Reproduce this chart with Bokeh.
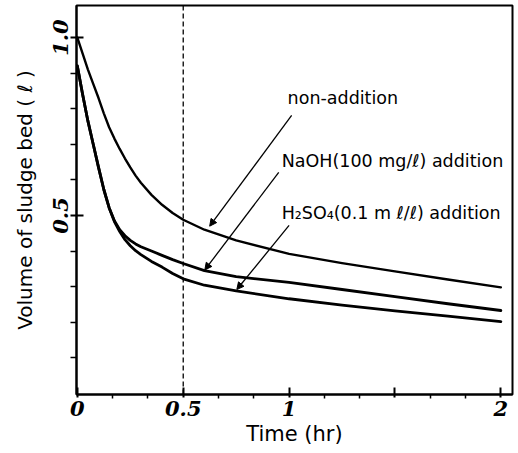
from bokeh.plotting import figure
from bokeh.models import Range1d, FixedTicker, Arrow, NormalHead, Label, Span
from bokeh.embed import file_html
from bokeh.resources import INLINE

# ---- data ----
time_hr = [0, 0.025, 0.05, 0.075, 0.1, 0.125, 0.15, 0.175, 0.2, 0.225, 0.25, 0.275, 0.3, 0.35, 0.4, 0.45,
           0.5, 0.6, 0.75, 1.0, 1.25, 1.5, 1.75, 2.0]
non_addition = [1.0, 0.955, 0.91, 0.87, 0.83, 0.787, 0.748, 0.716, 0.687, 0.66, 0.635, 0.612, 0.592, 0.558, 0.53, 0.507,
                0.488, 0.46, 0.43, 0.392, 0.366, 0.343, 0.32, 0.298]
naoh_addition = [0.92, 0.84, 0.765, 0.70, 0.635, 0.573, 0.522, 0.485, 0.46, 0.443, 0.43, 0.42, 0.412, 0.40, 0.388, 0.376,
                 0.365, 0.345, 0.328, 0.312, 0.292, 0.272, 0.252, 0.233]
h2so4_addition = [0.92, 0.84, 0.765, 0.70, 0.635, 0.573, 0.522, 0.483, 0.455, 0.432, 0.415, 0.401, 0.39, 0.371, 0.355, 0.337,
                  0.322, 0.304, 0.288, 0.266, 0.248, 0.232, 0.217, 0.202]

series_labels = ["non-addition", "NaOH(100 mg/\u2113) addition", "H\u2082SO\u2084(0.1 m \u2113/\u2113) addition"]
label_x = [0.993, 0.965, 0.965]
label_y = [0.831, 0.654, 0.506]
arrow_start_x = [1.012, 0.951, 1.0]
arrow_start_y = [0.781, 0.621, 0.472]
arrow_end_x = [0.625, 0.602, 0.753]
arrow_end_y = [0.47, 0.347, 0.292]

x_major_ticks = [0, 0.5, 1, 1.5, 2]
x_tick_labels = {0: "0", 0.5: "0.5", 1: "1", 1.5: "", 2: "2"}
x_minor_ticks = [k / 6 for k in range(13) if k % 3 != 0]
y_major_ticks = [0.5, 1.0]
y_tick_labels = {0.5: "0.5", 1.0: "1.0"}
y_minor_ticks = [0.1, 0.2, 0.3, 0.4, 0.6, 0.7, 0.8, 0.9]
marker_time = 0.5

p = figure(width=518, height=453, output_backend="svg", toolbar_location=None,
           x_range=Range1d(-0.004, 2.055), y_range=Range1d(-0.003, 1.09),
           min_border_left=76, min_border_right=6, min_border_top=5, min_border_bottom=59)
p.grid.visible = False
p.outline_line_color = "black"
p.outline_line_width = 2
p.background_fill_color = "white"
p.border_fill_color = "white"

for ys, w in [(non_addition, 2.4), (naoh_addition, 2.8), (h2so4_addition, 2.8)]:
    p.line(time_hr, ys, line_color="black", line_width=w, line_join="round", line_cap="round")

p.add_layout(Span(location=marker_time, dimension="height", line_color="black",
                  line_width=1.3, line_dash="5 3"))

for i in range(3):
    p.add_layout(Arrow(x_start=arrow_start_x[i], y_start=arrow_start_y[i],
                       x_end=arrow_end_x[i], y_end=arrow_end_y[i],
                       line_color="black", line_width=1.3,
                       end=NormalHead(size=7, fill_color="black", line_color="black", line_width=1)))
    p.add_layout(Label(x=label_x[i], y=label_y[i], text=series_labels[i],
                       text_font="DejaVu Sans", text_font_size="17.5px",
                       text_baseline="middle", text_align="left", text_color="black"))

xa = p.xaxis[0]
xa.ticker = FixedTicker(ticks=x_major_ticks, minor_ticks=x_minor_ticks)
xa.major_label_overrides = x_tick_labels
xa.axis_line_width = 2
xa.major_tick_line_width = 2
xa.minor_tick_line_width = 1.5
xa.major_tick_in = 7
xa.major_tick_out = 3
xa.minor_tick_in = 0
xa.minor_tick_out = 4
xa.major_label_standoff = 2
xa.major_label_text_color = "black"
xa.major_label_text_font = "DejaVu Serif"
xa.major_label_text_font_style = "bold italic"
xa.major_label_text_font_size = "21px"
xa.axis_label = "Time (hr)"
xa.axis_label_text_color = "black"
xa.axis_label_text_font = "DejaVu Sans"
xa.axis_label_text_font_style = "normal"
xa.axis_label_text_font_size = "21px"
xa.axis_label_standoff = 3

ya = p.yaxis[0]
ya.ticker = FixedTicker(ticks=y_major_ticks, minor_ticks=y_minor_ticks)
ya.major_label_overrides = y_tick_labels
ya.axis_line_width = 2
ya.major_tick_line_width = 2
ya.minor_tick_line_width = 1.5
ya.major_tick_in = 7
ya.major_tick_out = 6
ya.minor_tick_in = 0
ya.minor_tick_out = 6
ya.major_label_standoff = 2
ya.major_label_orientation = "vertical"
ya.major_label_text_color = "black"
ya.major_label_text_font = "DejaVu Serif"
ya.major_label_text_font_style = "bold italic"
ya.major_label_text_font_size = "21px"
ya.axis_label = "Volume of sludge bed ( \u2113 )"
ya.axis_label_text_color = "black"
ya.axis_label_text_font = "DejaVu Sans"
ya.axis_label_text_font_style = "normal"
ya.axis_label_text_font_size = "20px"
ya.axis_label_standoff = 14

open("out.html", "w").write(file_html(p, INLINE))
